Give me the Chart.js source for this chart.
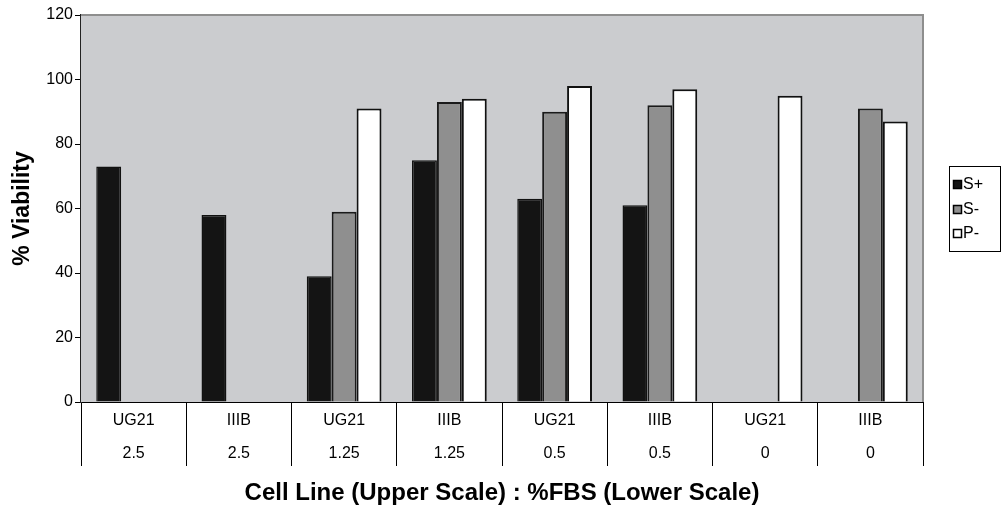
<!DOCTYPE html>
<html>
<head>
<meta charset="utf-8">
<script src="https://cdn.jsdelivr.net/npm/chart.js@4.4.1/dist/chart.umd.min.js"></script>
<style>
  html, body { margin: 0; padding: 0; background: #ffffff; }
  #wrap { width: 1005px; height: 510px; }
</style>
</head>
<body>
<div id="wrap"><canvas id="c" width="1005" height="510"></canvas></div>
<script>
const cellLines = ['UG21', 'IIIB', 'UG21', 'IIIB', 'UG21', 'IIIB', 'UG21', 'IIIB'];
const fbsLevels = ['2.5', '2.5', '1.25', '1.25', '0.5', '0.5', '0', '0'];
const seriesNames = ['S+', 'S-', 'P-'];
const sPlus  = [73, 58, 39, 75, 63, 61, null, null];
const sMinus = [null, null, 59, 93, 90, 92, null, 91];
const pMinus = [null, null, 91, 94, 98, 97, 95, 87];
const yTicks = [0, 20, 40, 60, 80, 100, 120];

const FONT = "'Liberation Sans', Arial, Helvetica, sans-serif";
const fills = ['#141414', '#8f8f8f', '#ffffff'];

const labels = cellLines.map((c, i) => [c, fbsLevels[i]]);

const frame = {
  id: 'frame',
  beforeDatasetsDraw(chart) {
    const {ctx, chartArea: a} = chart;
    ctx.save();
    ctx.fillStyle = '#cbcccf';
    ctx.fillRect(a.left, a.top, a.right - a.left, a.bottom - a.top);
    ctx.strokeStyle = '#8e8e8e';
    ctx.lineWidth = 2;
    ctx.beginPath();
    ctx.moveTo(a.left, a.top);
    ctx.lineTo(a.right, a.top);
    ctx.lineTo(a.right, a.bottom);
    ctx.stroke();
    ctx.restore();
  },
  afterDraw(chart) {
    const {ctx, chartArea: a} = chart;
    const ds = chart.data.datasets;
    const cy = (a.top + a.bottom) / 2;
    const step = 24.5;
    const bx = 949, bw = 51;
    const top = cy - 43, h = 85;
    ctx.save();
    ctx.strokeStyle = '#000';
    ctx.lineWidth = 1;
    ctx.strokeRect(bx + 0.5, Math.round(top) + 0.5, bw, h);
    ctx.font = '16px ' + FONT;
    ctx.textBaseline = 'middle';
    ctx.textAlign = 'left';
    ds.forEach((d, i) => {
      const y = cy + (i - 1) * step;
      ctx.fillStyle = d.backgroundColor;
      ctx.fillRect(953, Math.round(y - 4), 9, 9);
      ctx.strokeStyle = '#000';
      ctx.lineWidth = 1.5;
      ctx.strokeRect(953.5, Math.round(y - 4) + 0.5, 8, 8);
      ctx.fillStyle = '#000';
      ctx.fillText(d.label, 963, y + 1);
    });
    ctx.restore();
  }
};

new Chart(document.getElementById('c'), {
  type: 'bar',
  data: {
    labels: labels,
    datasets: [
      { label: seriesNames[0], data: sPlus,  backgroundColor: fills[0], borderColor: '#111', borderWidth: 1.5 },
      { label: seriesNames[1], data: sMinus, backgroundColor: fills[1], borderColor: '#1a1a1a', borderWidth: 2 },
      { label: seriesNames[2], data: pMinus, backgroundColor: fills[2], borderColor: '#111', borderWidth: 2 }
    ]
  },
  options: {
    responsive: false,
    animation: false,
    layout: { padding: { top: 15, right: 82, bottom: 0, left: 0 } },
    datasets: { bar: { categoryPercentage: 0.71, barPercentage: 1.0 } },
    plugins: { legend: { display: false }, tooltip: { enabled: false } },
    scales: {
      x: {
        offset: true,
        grid: { offset: true, drawOnChartArea: false, drawTicks: true, tickLength: 64, color: '#000', lineWidth: 1 },
        border: { display: true, color: '#000', width: 2 },
        ticks: { color: '#000', font: { family: FONT, size: 16, lineHeight: 2.06 }, padding: -61.5, maxRotation: 0, autoSkip: false },
        title: { display: true, text: 'Cell Line (Upper Scale) : %FBS (Lower Scale)', color: '#000',
                 font: { family: FONT, size: 24, weight: 'bold', lineHeight: 1.2 }, padding: { top: 0, bottom: 2 } },
        afterFit(s) { s.height = 108; }
      },
      y: {
        min: 0, max: 120,
        afterBuildTicks(s) { s.ticks = yTicks.map(v => ({ value: v })); },
        grid: { drawOnChartArea: false, drawTicks: true, tickLength: 6, color: '#000', lineWidth: 1 },
        border: { display: true, color: '#222', width: 2 },
        ticks: { color: '#000', font: { family: FONT, size: 16 }, padding: 2 },
        title: { display: true, text: '% Viability', color: '#000',
                 font: { family: FONT, size: 23, weight: 'bold', lineHeight: 1.2 }, padding: { top: 9, bottom: 0 } },
        afterFit(s) { s.width = 81; }
      }
    }
  },
  plugins: [frame]
});
</script>
</body>
</html>
